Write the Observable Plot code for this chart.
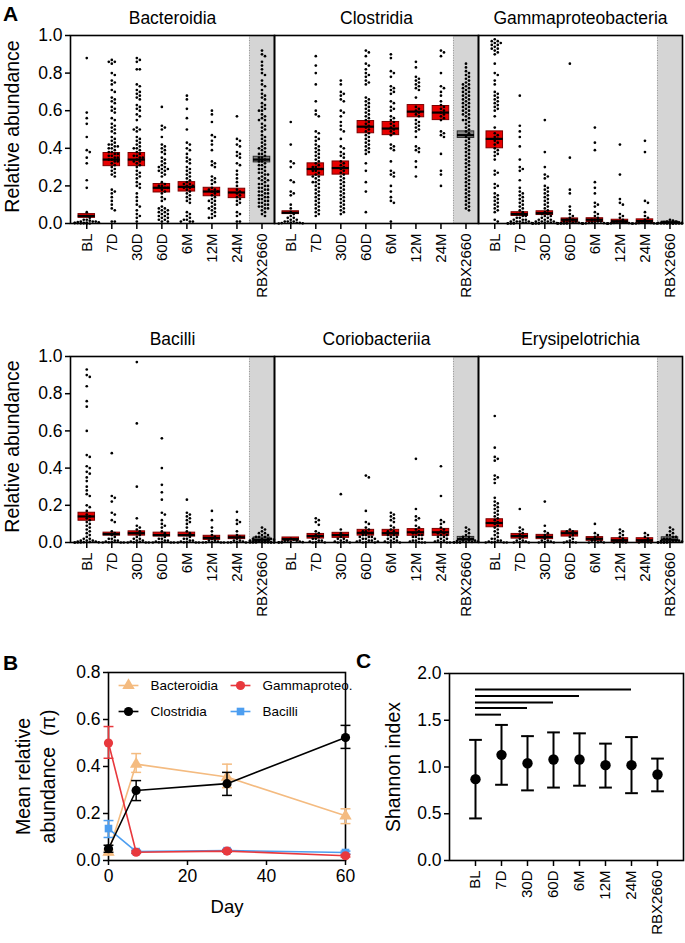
<!DOCTYPE html>
<html><head><meta charset="utf-8">
<script src="https://cdn.jsdelivr.net/npm/d3@7"></script>
<script src="https://cdn.jsdelivr.net/npm/@observablehq/plot@0.6"></script>
<style>
body{margin:0;background:#fff;}
#root{position:relative;width:685px;height:943px;overflow:hidden;background:#fff;font-family:"Liberation Sans",Arial,sans-serif;}
.pane{position:absolute;}
.plab{position:absolute;font:bold 21px "Liberation Sans",Arial,sans-serif;line-height:1;}
</style></head><body>
<div id="root">
  <div class="pane" id="a1" style="left:0;top:0"></div>
  <div class="pane" id="a2" style="left:0;top:320px"></div>
  <div class="pane" id="pb" style="left:0;top:640px"></div>
  <div class="pane" id="pc" style="left:345px;top:640px"></div>
  <div class="plab" style="left:3px;top:3px">A</div>
  <div class="plab" style="left:3px;top:652px">B</div>
  <div class="plab" style="left:356px;top:650px">C</div>
</div>
<script>
const FONT = '"Liberation Sans", Arial, sans-serif';
// ---------- categories ----------
const groups = ["BL","7D","30D","60D","6M","12M","24M","RBX2660"];
const classesTop = ["Bacteroidia","Clostridia","Gammaproteobacteria"];
const classesBottom = ["Bacilli","Coriobacteriia","Erysipelotrichia"];
const yTicksA = [0,0.2,0.4,0.6,0.8,1.0];

// ---------- panel A: per-sample relative abundance (estimated from figure) ----------
const bacteroidiaDots = [
 [0.88,0.59,0.56,0.53,0.46,0.39,0.38,0.35,0.32,0.23,0.19,0.06,0.04,0.03,0.02,0.02,0.015,0.01,0.01,0.01,0.008,0.006,0.005,0.004,0.003,0.002,0.002,0.001,0.001,0,0],
 [0.87,0.86,0.86,0.85,0.80,0.79,0.76,0.75,0.74,0.71,0.70,0.67,0.66,0.65,0.64,0.62,0.61,0.60,0.59,0.56,0.55,0.53,0.52,0.51,0.50,0.49,0.48,0.46,0.45,0.44,0.43,0.42,0.42,0.41,0.41,0.40,0.40,0.39,0.38,0.38,0.37,0.37,0.36,0.36,0.35,0.35,0.34,0.34,0.33,0.33,0.32,0.31,0.30,0.29,0.28,0.27,0.26,0.25,0.18,0.17,0.16,0.14,0.12,0.10,0.08,0.07,0.01,0.01],
 [0.88,0.87,0.86,0.82,0.82,0.74,0.73,0.71,0.70,0.69,0.68,0.67,0.66,0.63,0.62,0.61,0.60,0.58,0.57,0.55,0.51,0.50,0.50,0.49,0.46,0.45,0.44,0.43,0.42,0.41,0.40,0.40,0.39,0.38,0.37,0.36,0.36,0.35,0.35,0.34,0.33,0.33,0.32,0.31,0.30,0.28,0.27,0.26,0.25,0.24,0.22,0.21,0.20,0.19,0.16,0.14,0.12,0.10,0.09,0.07,0.05,0.04,0.03,0.01],
 [0.62,0.52,0.51,0.50,0.46,0.42,0.41,0.40,0.39,0.38,0.37,0.35,0.34,0.33,0.32,0.31,0.30,0.30,0.29,0.29,0.28,0.28,0.27,0.26,0.25,0.22,0.21,0.20,0.20,0.19,0.19,0.18,0.17,0.16,0.14,0.13,0.12,0.09,0.08,0.08,0.07,0.07,0.06,0.06,0.05,0.05,0.04,0.04,0.03,0.03,0.02,0.02,0.01,0.01],
 [0.68,0.66,0.61,0.56,0.50,0.43,0.42,0.40,0.39,0.37,0.35,0.34,0.33,0.32,0.30,0.29,0.28,0.27,0.26,0.25,0.24,0.23,0.22,0.21,0.21,0.20,0.20,0.19,0.19,0.18,0.17,0.16,0.15,0.14,0.13,0.12,0.11,0.06,0.05,0.04,0.03,0.02,0.02,0.01,0.01,0.01],
 [0.60,0.58,0.54,0.47,0.46,0.44,0.42,0.39,0.33,0.32,0.31,0.30,0.25,0.24,0.23,0.22,0.21,0.19,0.18,0.18,0.17,0.17,0.16,0.15,0.14,0.13,0.12,0.12,0.11,0.10,0.09,0.08,0.08,0.07,0.06,0.05,0.04,0.03,0.03],
 [0.57,0.45,0.44,0.42,0.41,0.38,0.37,0.36,0.35,0.32,0.31,0.28,0.26,0.24,0.22,0.20,0.18,0.17,0.16,0.15,0.14,0.13,0.12,0.11,0.10,0.06,0.05,0.04,0.01,0.01],
 [0.92,0.90,0.89,0.86,0.84,0.82,0.80,0.79,0.76,0.74,0.73,0.71,0.69,0.68,0.67,0.66,0.64,0.63,0.62,0.61,0.60,0.60,0.58,0.57,0.56,0.55,0.55,0.53,0.52,0.51,0.50,0.49,0.47,0.46,0.45,0.44,0.43,0.42,0.41,0.40,0.40,0.39,0.38,0.37,0.37,0.36,0.35,0.35,0.34,0.33,0.33,0.32,0.31,0.31,0.30,0.29,0.29,0.28,0.27,0.27,0.26,0.26,0.25,0.24,0.24,0.23,0.23,0.22,0.21,0.21,0.20,0.20,0.19,0.19,0.18,0.18,0.17,0.17,0.16,0.16,0.15,0.15,0.14,0.14,0.13,0.13,0.12,0.12,0.11,0.11,0.10,0.10,0.09,0.09,0.08,0.08,0.07,0.06,0.05,0.04]
];
const clostridiaDots = [
 [0.54,0.42,0.33,0.32,0.30,0.23,0.22,0.17,0.16,0.15,0.10,0.08,0.06,0.05,0.04,0.03,0.03,0.02,0.02,0.01,0.01,0.01,0.005,0.004,0.003,0.002,0.001,0],
 [0.89,0.84,0.80,0.74,0.65,0.60,0.58,0.57,0.49,0.48,0.46,0.45,0.44,0.42,0.41,0.40,0.39,0.38,0.37,0.36,0.35,0.34,0.33,0.32,0.31,0.30,0.30,0.29,0.29,0.28,0.28,0.27,0.26,0.25,0.25,0.24,0.23,0.22,0.22,0.21,0.20,0.19,0.18,0.17,0.16,0.15,0.14,0.13,0.12,0.11,0.10,0.09,0.08,0.07,0.06,0.05,0.04],
 [0.76,0.74,0.70,0.69,0.68,0.66,0.65,0.60,0.59,0.57,0.54,0.52,0.50,0.49,0.45,0.41,0.40,0.38,0.37,0.36,0.35,0.33,0.32,0.31,0.30,0.29,0.28,0.27,0.26,0.25,0.24,0.23,0.22,0.21,0.20,0.19,0.18,0.17,0.16,0.15,0.14,0.13,0.12,0.11,0.10,0.09,0.08,0.07,0.06,0.05],
 [0.92,0.91,0.89,0.85,0.84,0.82,0.80,0.79,0.78,0.76,0.75,0.74,0.67,0.66,0.65,0.64,0.63,0.62,0.61,0.60,0.59,0.58,0.57,0.56,0.55,0.54,0.53,0.52,0.51,0.50,0.49,0.48,0.47,0.46,0.45,0.44,0.43,0.42,0.41,0.40,0.39,0.38,0.37,0.32,0.28,0.22,0.17,0.06],
 [0.90,0.88,0.81,0.80,0.78,0.73,0.72,0.71,0.70,0.69,0.65,0.64,0.62,0.61,0.60,0.57,0.56,0.55,0.54,0.53,0.52,0.51,0.50,0.49,0.48,0.47,0.42,0.41,0.40,0.39,0.33,0.28,0.27,0.26,0.25,0.20,0.17,0.14,0.12,0.11,0.01],
 [0.86,0.83,0.78,0.77,0.76,0.75,0.74,0.73,0.72,0.71,0.67,0.62,0.61,0.60,0.59,0.58,0.57,0.55,0.54,0.53,0.52,0.51,0.50,0.49,0.46,0.41,0.40,0.39,0.38,0.33,0.30,0.25],
 [0.92,0.91,0.89,0.80,0.73,0.72,0.70,0.68,0.65,0.63,0.62,0.61,0.60,0.59,0.58,0.57,0.56,0.55,0.49,0.48,0.47,0.46,0.37,0.28,0.26,0.20],
 [0.85,0.83,0.81,0.80,0.79,0.78,0.77,0.76,0.75,0.74,0.74,0.73,0.72,0.72,0.71,0.70,0.70,0.69,0.68,0.68,0.67,0.66,0.66,0.65,0.64,0.64,0.63,0.62,0.62,0.61,0.60,0.60,0.59,0.58,0.58,0.57,0.56,0.55,0.55,0.54,0.53,0.52,0.51,0.50,0.49,0.48,0.46,0.45,0.44,0.43,0.42,0.41,0.40,0.39,0.38,0.37,0.36,0.35,0.34,0.33,0.32,0.31,0.30,0.29,0.28,0.27,0.26,0.25,0.24,0.23,0.22,0.21,0.20,0.19,0.18,0.17,0.16,0.15,0.14,0.13,0.12,0.11,0.10,0.09,0.08,0.07]
];
const gammaDots = [
 [0.98,0.97,0.97,0.96,0.96,0.95,0.95,0.94,0.93,0.93,0.92,0.91,0.90,0.85,0.80,0.79,0.76,0.74,0.70,0.69,0.68,0.67,0.66,0.65,0.64,0.63,0.62,0.61,0.60,0.57,0.51,0.48,0.47,0.46,0.45,0.44,0.43,0.42,0.40,0.39,0.38,0.37,0.36,0.34,0.28,0.27,0.26,0.21,0.20,0.19,0.16,0.15,0.14,0.13,0.12,0.11,0.10,0.09,0.08,0.07,0.06,0.02,0.01],
 [0.68,0.52,0.49,0.46,0.41,0.34,0.30,0.29,0.28,0.23,0.19,0.17,0.16,0.15,0.14,0.13,0.12,0.11,0.10,0.09,0.08,0.07,0.06,0.05,0.05,0.04,0.04,0.03,0.03,0.02,0.02,0.02,0.01,0.01,0.01,0.01,0.005,0.005,0.003,0.002,0.001,0,0,0],
 [0.55,0.38,0.30,0.26,0.25,0.24,0.20,0.19,0.18,0.17,0.16,0.15,0.14,0.13,0.12,0.11,0.10,0.09,0.08,0.07,0.06,0.05,0.05,0.04,0.04,0.03,0.03,0.02,0.02,0.02,0.01,0.01,0.01,0.01,0.005,0.005,0.003,0.002,0.001,0,0,0],
 [0.85,0.35,0.18,0.16,0.09,0.07,0.05,0.04,0.03,0.02,0.02,0.01,0.01,0.01,0.005,0.005,0.003,0.002,0.001,0.001,0,0,0,0],
 [0.51,0.43,0.39,0.22,0.19,0.16,0.11,0.10,0.09,0.06,0.05,0.04,0.03,0.02,0.02,0.01,0.01,0.005,0.005,0.003,0.002,0.001,0,0,0],
 [0.42,0.26,0.13,0.11,0.10,0.05,0.04,0.03,0.02,0.01,0.01,0.005,0.004,0.003,0.002,0.001,0,0,0],
 [0.44,0.38,0.12,0.11,0.06,0.04,0.03,0.02,0.01,0.01,0.005,0.003,0.002,0.001,0,0,0],
 [0.02,0.015,0.01,0.01,0.008,0.006,0.005,0.004,0.003,0.002,0.002,0.001,0.001,0,0,0,0,0,0,0]
];
const bacilliDots = [
 [0.93,0.90,0.89,0.84,0.76,0.73,0.60,0.47,0.46,0.41,0.40,0.38,0.37,0.35,0.33,0.30,0.28,0.26,0.25,0.20,0.19,0.17,0.15,0.14,0.13,0.12,0.11,0.10,0.09,0.08,0.07,0.06,0.05,0.04,0.03,0.02,0.02,0.01,0.01,0.01,0.005,0.005,0.003,0.002,0.001,0,0,0,0],
 [0.48,0.25,0.24,0.22,0.16,0.15,0.12,0.11,0.06,0.05,0.04,0.03,0.02,0.02,0.01,0.01,0.005,0.003,0.001,0,0,0],
 [0.97,0.64,0.30,0.13,0.09,0.08,0.07,0.06,0.05,0.04,0.03,0.02,0.02,0.01,0.01,0.005,0.003,0.001,0,0,0],
 [0.56,0.40,0.31,0.27,0.23,0.16,0.15,0.12,0.10,0.09,0.08,0.06,0.05,0.04,0.03,0.02,0.02,0.01,0.01,0.005,0.003,0.001,0,0,0],
 [0.23,0.16,0.15,0.14,0.13,0.12,0.11,0.10,0.08,0.06,0.05,0.04,0.03,0.02,0.02,0.01,0.01,0.005,0.003,0.001,0,0,0],
 [0.17,0.12,0.08,0.06,0.04,0.03,0.02,0.01,0.01,0.005,0.003,0.001,0,0,0],
 [0.165,0.12,0.11,0.10,0.06,0.04,0.03,0.02,0.01,0.01,0.005,0.003,0.001,0,0],
 [0.08,0.07,0.06,0.05,0.05,0.04,0.04,0.03,0.03,0.03,0.02,0.02,0.02,0.02,0.015,0.01,0.01,0.01,0.01,0.008,0.006,0.005,0.005,0.004,0.003,0.002,0.002,0.001,0.001,0,0,0,0,0]
];
const corioDots = [
 [0.02,0.015,0.01,0.01,0.008,0.005,0.004,0.003,0.002,0.001,0,0],
 [0.13,0.12,0.11,0.095,0.06,0.05,0.04,0.03,0.02,0.02,0.01,0.01,0.005,0.002,0,0],
 [0.26,0.07,0.05,0.04,0.03,0.02,0.02,0.01,0.01,0.005,0.002,0,0],
 [0.36,0.35,0.17,0.11,0.10,0.08,0.07,0.06,0.06,0.05,0.05,0.04,0.04,0.03,0.03,0.03,0.02,0.02,0.02,0.01,0.01,0.01,0.005,0.005,0.002,0,0],
 [0.16,0.15,0.14,0.13,0.12,0.11,0.09,0.08,0.07,0.06,0.06,0.05,0.05,0.04,0.04,0.03,0.03,0.02,0.02,0.01,0.01,0.005,0.002,0,0],
 [0.45,0.18,0.14,0.13,0.12,0.09,0.08,0.07,0.06,0.05,0.05,0.04,0.04,0.03,0.03,0.02,0.02,0.01,0.01,0.005,0.002,0,0],
 [0.41,0.25,0.12,0.11,0.10,0.08,0.07,0.06,0.05,0.05,0.04,0.04,0.03,0.03,0.02,0.02,0.01,0.01,0.005,0.002,0,0],
 [0.08,0.07,0.06,0.05,0.04,0.03,0.03,0.02,0.02,0.02,0.01,0.01,0.01,0.008,0.005,0.004,0.003,0.002,0.001,0,0,0]
];
const erysipeloDots = [
 [0.68,0.51,0.46,0.45,0.44,0.36,0.35,0.34,0.32,0.24,0.22,0.21,0.20,0.19,0.18,0.17,0.16,0.15,0.14,0.13,0.12,0.11,0.10,0.09,0.08,0.07,0.06,0.05,0.04,0.03,0.02,0.02,0.01,0.01,0.005,0.003,0.001,0,0,0],
 [0.18,0.08,0.07,0.06,0.05,0.04,0.03,0.02,0.01,0.01,0.005,0.002,0,0],
 [0.22,0.09,0.06,0.05,0.04,0.03,0.02,0.01,0.01,0.005,0.002,0,0],
 [0.07,0.06,0.06,0.05,0.05,0.04,0.03,0.02,0.01,0.005,0.002,0,0],
 [0.10,0.05,0.04,0.03,0.02,0.01,0.01,0.005,0.002,0,0],
 [0.07,0.06,0.05,0.04,0.03,0.02,0.01,0.005,0.002,0,0],
 [0.05,0.04,0.03,0.02,0.01,0.005,0.002,0,0],
 [0.08,0.07,0.06,0.05,0.04,0.04,0.03,0.03,0.02,0.02,0.02,0.01,0.01,0.01,0.008,0.005,0.004,0.003,0.002,0.001,0,0,0,0]
];
// mean and 95% CI per group (BL ... RBX2660)
const bacteroidiaMean = [0.04,0.34,0.34,0.19,0.195,0.17,0.165,0.34];
const bacteroidiaLo   = [0.03,0.305,0.305,0.165,0.17,0.145,0.135,0.325];
const bacteroidiaHi   = [0.05,0.375,0.375,0.21,0.22,0.19,0.185,0.355];
const clostridiaMean = [0.057,0.29,0.295,0.515,0.505,0.595,0.59,0.47];
const clostridiaLo   = [0.05,0.255,0.26,0.48,0.47,0.565,0.55,0.455];
const clostridiaHi   = [0.065,0.32,0.33,0.545,0.54,0.63,0.625,0.49];
const gammaMean = [0.45,0.05,0.055,0.02,0.02,0.012,0.013,0.006];
const gammaLo   = [0.40,0.04,0.045,0.005,0.008,0.003,0.003,0.002];
const gammaHi   = [0.49,0.06,0.065,0.027,0.028,0.02,0.022,0.01];
const bacilliMean = [0.14,0.045,0.05,0.04,0.04,0.025,0.028,0.015];
const bacilliLo   = [0.117,0.037,0.037,0.032,0.032,0.014,0.018,0.005];
const bacilliHi   = [0.16,0.053,0.06,0.053,0.053,0.036,0.037,0.027];
const corioMean = [0.018,0.035,0.04,0.052,0.05,0.055,0.055,0.018];
const corioLo   = [0.01,0.021,0.025,0.037,0.036,0.036,0.036,0.01];
const corioHi   = [0.027,0.046,0.052,0.068,0.068,0.072,0.073,0.03];
const erysipeloMean = [0.105,0.035,0.03,0.05,0.02,0.012,0.012,0.015];
const erysipeloLo   = [0.082,0.021,0.018,0.032,0.009,0.001,0.003,0.005];
const erysipeloHi   = [0.125,0.046,0.041,0.06,0.029,0.023,0.023,0.028];

// ---------- panel B ----------
const days = [0,7,30,60];
const seriesB = ["Bacteroidia","Gammaproteo.","Clostridia","Bacilli"];
const bBacteroidia = [0.035,0.41,0.355,0.19], bBacteroidiaLo = [0.025,0.375,0.31,0.157], bBacteroidiaHi = [0.045,0.455,0.41,0.22];
const bGamma = [0.50,0.035,0.04,0.02], bGammaLo = [0.435,0.03,0.035,0.015], bGammaHi = [0.57,0.04,0.045,0.025];
const bClostridia = [0.05,0.298,0.327,0.523], bClostridiaLo = [0.035,0.255,0.277,0.477], bClostridiaHi = [0.065,0.34,0.375,0.575];
const bBacilli = [0.136,0.038,0.042,0.034], bBacilliLo = [0.098,0.032,0.036,0.028], bBacilliHi = [0.17,0.044,0.048,0.04];

// ---------- panel C ----------
const shannonMean = [0.87,1.13,1.04,1.08,1.08,1.02,1.02,0.92];
const shannonLo   = [0.45,0.81,0.75,0.78,0.80,0.78,0.72,0.74];
const shannonHi   = [1.29,1.45,1.33,1.37,1.36,1.25,1.32,1.09];
const sigTo = ["7D","30D","60D","6M","24M"];
const sigLevel = [1.56,1.63,1.69,1.76,1.83];

// ---------- helpers ----------
const capSymbol = {draw(ctx, size){ const w = Math.sqrt(size); ctx.moveTo(-w,0); ctx.lineTo(w,0); }};

function swarm(vals, kx, ky){
  const step = 3.0, maxK = 4, minD = 2.8;
  const order = d3.range(vals.length).sort((a,b) => d3.descending(vals[a], vals[b]));
  const placed = [], off = new Array(vals.length);
  let overflow = 0;
  for (const i of order){
    const y = vals[i]*ky;
    const near = placed.filter(p => Math.abs(p.y - y) < minD);
    let chosen = null;
    for (let k = 0; k <= maxK && chosen === null; k++){
      for (const s of (k ? [k,-k] : [0])){
        const x = s*step;
        if (near.every(p => Math.hypot(p.x - x, p.y - y) >= minD)){ chosen = x; break; }
      }
    }
    if (chosen === null){ chosen = ((overflow++ % (2*maxK+1)) - maxK)*step; }
    placed.push({x: chosen, y}); off[i] = chosen/kx;
  }
  return off;
}

const XD = [-0.65, 7.5];
function panelA(classes, dots, means, los, his, o){
  const rbxI = groups.indexOf("RBX2660");
  const plotH = o.height - o.mt - o.mb;
  const facetW = (685 - 70 - 3)/classes.length;
  const kx = facetW/(XD[1]-XD[0]);
  const pts = [], boxes = [];
  classes.forEach((c, ci) => groups.forEach((g, gi) => {
    const vals = dots[ci][gi];
    const offs = swarm(vals, kx, plotH);
    vals.forEach((v, k) => pts.push({cls: c, gi, v, off: offs[k]}));
    boxes.push({cls: c, gi, mean: means[ci][gi], lo: los[ci][gi], hi: his[ci][gi], rbx: g === "RBX2660"});
  }));
  return Plot.plot({
    width: 685, height: o.height,
    marginLeft: 70, marginRight: 3, marginTop: o.mt, marginBottom: o.mb,
    style: {fontFamily: FONT, background: "transparent", color: "black"},
    fx: {domain: classes, padding: 0, axis: null},
    x: {domain: XD},
    y: {domain: [0,1]},
    marks: [
      Plot.rect([0], {x1: rbxI - 0.5, x2: XD[1], y1: 0, y2: 1, fill: "#d5d5d5"}),
      Plot.ruleX([rbxI - 0.5], {stroke: "#9a9a9a", strokeDasharray: "1,1.5"}),
      Plot.rect(boxes, {fx: "cls", x1: d => d.gi - 0.33, x2: d => d.gi + 0.33, y1: "lo", y2: "hi",
        fill: d => d.rbx ? "#858585" : "#e80000", stroke: d => d.rbx ? "#2a2a2a" : "#7a0000", strokeWidth: 1}),
      Plot.ruleY(boxes, {fx: "cls", y: "mean", x1: d => d.gi - 0.34, x2: d => d.gi + 0.34, stroke: "black", strokeWidth: 2.2}),
      Plot.dot(pts, {fx: "cls", x: d => d.gi + d.off, y: "v", r: 1.35, fill: "black", stroke: "none"}),
      Plot.axisY({ticks: yTicksA, tickFormat: d3.format(".1f"), tickSize: 5, tickPadding: 3, fontSize: 17.5, label: null, strokeWidth: 1.5}),
      Plot.axisX({ticks: d3.range(groups.length), tickFormat: i => groups[i], tickRotate: -90, tickSize: 6, tickPadding: 4, fontSize: 15, label: null, strokeWidth: 1.5}),
      Plot.frame({stroke: "black", strokeWidth: 1.6}),
      Plot.text(classes, {fx: d => d, text: d => d, frameAnchor: "top", dy: -17, lineAnchor: "middle", textAnchor: "middle", fontSize: 17.5}),
      Plot.text(["Relative abundance"], {fx: () => classes[0], text: d => d, frameAnchor: "left", textAnchor: "middle", lineAnchor: "middle", rotate: -90, dx: -58, dy: -3, fontSize: 19.5})
    ]
  });
}

document.getElementById("a1").append(panelA(classesTop,
  [bacteroidiaDots, clostridiaDots, gammaDots],
  [bacteroidiaMean, clostridiaMean, gammaMean],
  [bacteroidiaLo, clostridiaLo, gammaLo],
  [bacteroidiaHi, clostridiaHi, gammaHi],
  {height: 318, mt: 35, mb: 95}));
document.getElementById("a2").append(panelA(classesBottom,
  [bacilliDots, corioDots, erysipeloDots],
  [bacilliMean, corioMean, erysipeloMean],
  [bacilliLo, corioLo, erysipeloLo],
  [bacilliHi, corioHi, erysipeloHi],
  {height: 315, mt: 36, mb: 93}));

// ---------- Panel B ----------
const colorsB = ["#f4bb80","#e8383d","#000000","#4d9ef0"];
const symbolsB = ["triangle","circle","circle","square"];
const valsB = [[bBacteroidia,bBacteroidiaLo,bBacteroidiaHi],[bGamma,bGammaLo,bGammaHi],[bClostridia,bClostridiaLo,bClostridiaHi],[bBacilli,bBacilliLo,bBacilliHi]];
const drawOrder = [0,3,1,2];
const marksB = [];
for (const si of drawOrder){
  const rows = days.map((d, k) => ({day: d, v: valsB[si][0][k], lo: valsB[si][1][k], hi: valsB[si][2][k]}));
  const col = colorsB[si];
  marksB.push(
    Plot.ruleX(rows, {x: "day", y1: "lo", y2: "hi", stroke: col, strokeWidth: 1.5}),
    Plot.dot(rows, {x: "day", y: "lo", symbol: capSymbol, r: 2.8, stroke: col, strokeWidth: 1.5}),
    Plot.dot(rows, {x: "day", y: "hi", symbol: capSymbol, r: 2.8, stroke: col, strokeWidth: 1.5}),
    Plot.line(rows, {x: "day", y: "v", stroke: col, strokeWidth: 1.6}),
    Plot.dot(rows, {x: "day", y: "v", symbol: symbolsB[si], r: si === 3 ? 4.3 : 4.6, fill: col, stroke: "none"})
  );
}
seriesB.forEach((name, i) => {
  const dx = 10 + (i % 2)*112, dy = 13 + Math.floor(i/2)*26;
  marksB.push(
    Plot.dot([name], {frameAnchor: "top-left", dx: dx + 10, dy, symbol: capSymbol, r: 5.6, stroke: colorsB[i], strokeWidth: 1.6}),
    Plot.dot([name], {frameAnchor: "top-left", dx: dx + 10, dy, symbol: symbolsB[i], r: i === 3 ? 4.3 : 4.6, fill: colorsB[i], stroke: "none"}),
    Plot.text([name], {frameAnchor: "top-left", text: d => d, dx: dx + 32, dy, fontSize: 13.5, textAnchor: "start", lineAnchor: "middle"})
  );
});
document.getElementById("pb").append(Plot.plot({
  width: 360, height: 303, marginLeft: 108, marginRight: 15, marginTop: 32, marginBottom: 83,
  style: {fontFamily: FONT, background: "transparent", color: "black"},
  x: {domain: [0,60]},
  y: {domain: [0,0.8]},
  marks: [
    Plot.frame({stroke: "black", strokeWidth: 1.6}),
    ...marksB,
    Plot.axisY({ticks: [0,0.2,0.4,0.6,0.8], tickFormat: d3.format(".1f"), tickSize: 5, tickPadding: 3, fontSize: 17.5, label: null, strokeWidth: 1.5}),
    Plot.axisX({ticks: [0,20,40,60], tickSize: 5, tickPadding: 4, fontSize: 17.5, label: null, strokeWidth: 1.5}),
    Plot.text(["Day"], {text: d => d, frameAnchor: "bottom", dy: 47, fontSize: 18.5, lineAnchor: "middle", textAnchor: "middle"}),
    Plot.text(["Mean relative\nabundance\u00a0 (\u03c0)"], {text: d => d, frameAnchor: "left", textAnchor: "middle", rotate: -90, dx: -74, dy: 10, fontSize: 19.5, lineHeight: 1.3, lineAnchor: "middle"})
  ]
}));

// ---------- Panel C ----------
const rowsC = groups.map((g, i) => ({g, m: shannonMean[i], lo: shannonLo[i], hi: shannonHi[i]}));
const sigRows = sigTo.map((t, i) => ({from: groups[0], to: t, y: sigLevel[i]}));
document.getElementById("pc").append(Plot.plot({
  width: 340, height: 303, marginLeft: 104, marginRight: 2, marginTop: 33, marginBottom: 83,
  style: {fontFamily: FONT, background: "transparent", color: "black"},
  x: {type: "point", domain: groups, padding: 0.95},
  y: {domain: [0,2]},
  marks: [
    Plot.frame({stroke: "black", strokeWidth: 1.6}),
    Plot.ruleY(sigRows, {x1: "from", x2: "to", y: "y", stroke: "black", strokeWidth: 2}),
    Plot.ruleX(rowsC, {x: "g", y1: "lo", y2: "hi", stroke: "black", strokeWidth: 2}),
    Plot.dot(rowsC, {x: "g", y: "lo", symbol: capSymbol, r: 3.6, stroke: "black", strokeWidth: 2}),
    Plot.dot(rowsC, {x: "g", y: "hi", symbol: capSymbol, r: 3.6, stroke: "black", strokeWidth: 2}),
    Plot.dot(rowsC, {x: "g", y: "m", r: 5.2, fill: "black", stroke: "none"}),
    Plot.axisY({ticks: [0,0.5,1,1.5,2], tickFormat: d3.format(".1f"), tickSize: 5, tickPadding: 3, fontSize: 17.5, label: null, strokeWidth: 1.5}),
    Plot.axisX({tickRotate: -90, tickSize: 6, tickPadding: 4, fontSize: 15, label: null, strokeWidth: 1.5}),
    Plot.text(["Shannon index"], {text: d => d, frameAnchor: "left", textAnchor: "middle", lineAnchor: "middle", rotate: -90, dx: -56, dy: 0, fontSize: 19.5})
  ]
}));
</script>
</body></html>
